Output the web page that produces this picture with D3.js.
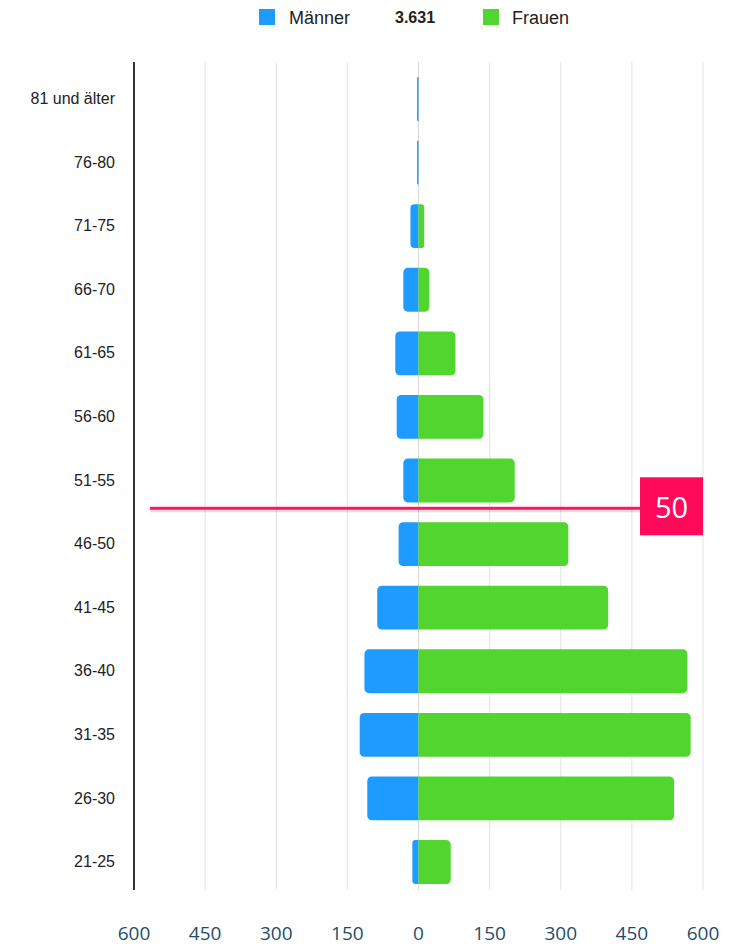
<!DOCTYPE html>
<html><head><meta charset="utf-8">
<script src="https://cdn.jsdelivr.net/npm/d3@7"></script>
<style>html,body{margin:0;padding:0;background:#fff;}svg{display:block;}</style>
</head><body>
<svg id="c" width="737" height="946"></svg>
<script>
const categories = ["81 und älter","76-80","71-75","66-70","61-65","56-60","51-55","46-50","41-45","36-40","31-35","26-30","21-25"];
const maenner = [3,3,17,32,49,46,32,42,87,114,124,108,13];
const frauen  = [0,0,12,23,78,137,203,316,400,567,574,539,68];
const tickValues = [-600,-450,-300,-150,0,150,300,450,600];
const totalLabel = "3.631";
const legendLabels = ["Männer","Frauen"];
const markerLabel = "50";

const svg = d3.select("#c");
const BLUE = "#1e9bff", GREEN = "#50d62e";

const x = d3.scaleLinear().domain([-600,600]).range([134,703]);
const y = d3.scaleBand().domain(categories).range([67.2,893.8]).paddingInner(0.31).paddingOuter(0.155);

// gridlines
svg.append("g").selectAll("line").data(tickValues.filter(d=>d!==-600)).join("line")
  .attr("x1",d=>x(d)).attr("x2",d=>x(d)).attr("y1",62).attr("y2",890)
  .attr("stroke",d=>d===0?"#d8d8d8":"#e2e2e2").attr("stroke-width",1);

// left axis line
svg.append("line").attr("x1",x(-600)).attr("x2",x(-600)).attr("y1",62).attr("y2",890)
  .attr("stroke","#333").attr("stroke-width",2);

// category labels
const yAxis = d3.axisLeft(y).tickSize(0).tickPadding(0);
const ya = svg.append("g").attr("transform","translate(115,0)").call(yAxis);
ya.select(".domain").remove();
ya.selectAll("text").attr("font-family","Liberation Sans, Arial, sans-serif").attr("font-size",16).attr("fill","#222");

function roundedBar(x0,x1,yt,h,side){
  const w = Math.abs(x1-x0);
  const r = Math.min(4.5,w/2,h/2);
  const p = d3.path();
  if(side==="left"){
    const L=x1, R=x0;
    p.moveTo(R,yt); p.lineTo(L+r,yt); p.arcTo(L,yt,L,yt+r,r); p.lineTo(L,yt+h-r);
    p.arcTo(L,yt+h,L+r,yt+h,r); p.lineTo(R,yt+h); p.closePath();
  } else {
    const L=x0, R=x1;
    p.moveTo(L,yt); p.lineTo(R-r,yt); p.arcTo(R,yt,R,yt+r,r); p.lineTo(R,yt+h-r);
    p.arcTo(R,yt+h,R-r,yt+h,r); p.lineTo(L,yt+h); p.closePath();
  }
  return p.toString();
}

const bars = svg.append("g");
bars.selectAll("path.m").data(categories).join("path").attr("class","m")
  .attr("d",(c,i)=>roundedBar(x(0),x(-maenner[i]),y(c),y.bandwidth(),"left"))
  .attr("fill",BLUE);
bars.selectAll("path.f").data(categories.filter((c,i)=>frauen[i]>0)).join("path").attr("class","f")
  .attr("d",c=>{const i=categories.indexOf(c);return roundedBar(x(0),x(frauen[i]),y(c),y.bandwidth(),"right");})
  .attr("fill",GREEN);

// bottom tick labels
svg.append("g").selectAll("text").data(tickValues).join("text")
  .attr("x",d=>x(d)).attr("y",940).attr("text-anchor","middle")
  .attr("font-family","Open Sans, Liberation Sans, sans-serif").attr("font-size",19)
  .attr("fill","#1f4d6b").text(d=>Math.abs(d));

// legend
const lg = svg.append("g").attr("font-family","Liberation Sans, Arial, sans-serif");
lg.append("rect").attr("x",259).attr("y",9).attr("width",16).attr("height",16).attr("fill",BLUE);
lg.append("text").attr("x",289).attr("y",24).attr("font-size",18).attr("fill","#222").text(legendLabels[0]);
lg.append("text").attr("x",395).attr("y",23).attr("font-size",16).attr("font-weight","bold").attr("fill","#222").text(totalLabel);
lg.append("rect").attr("x",483).attr("y",9).attr("width",16).attr("height",16).attr("fill",GREEN);
lg.append("text").attr("x",512).attr("y",24).attr("font-size",18).attr("fill","#222").text(legendLabels[1]);

// marker line
const my = (y("51-55")+y.bandwidth() + y("46-50"))/2 - 4;
svg.append("rect").attr("x",150).attr("y",my+1).attr("width",495).attr("height",3).attr("fill","#000").attr("opacity",0.12);
svg.append("rect").attr("x",150).attr("y",my-1.5).attr("width",495).attr("height",3).attr("fill","#ff1560");
svg.append("rect").attr("x",640).attr("y",my-31).attr("width",63).attr("height",58).attr("fill","#ff0a5a");
svg.append("text").attr("x",671.5).attr("y",my+10).attr("text-anchor","middle")
  .attr("font-family","Open Sans, Liberation Sans, sans-serif").attr("font-size",29).attr("fill","#fff").text(markerLabel);
</script>
</body></html>
